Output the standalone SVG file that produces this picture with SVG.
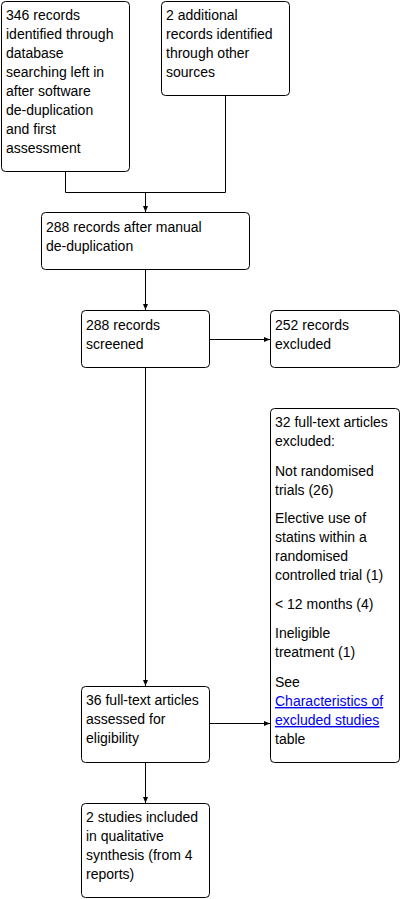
<svg xmlns="http://www.w3.org/2000/svg" width="402" height="899" viewBox="0 0 402 899">
<style>
rect.box{fill:#fff;stroke:#000;stroke-width:1}
text{font-family:"Liberation Sans",Arial,sans-serif;font-size:14px;fill:#000}
.link{fill:#0000ee;text-decoration:underline}
.conn{fill:none;stroke:#000;stroke-width:1}
</style>
<defs>
<marker id="arr" markerWidth="6" markerHeight="6" refX="6" refY="3" orient="auto" markerUnits="userSpaceOnUse">
<path d="M0,0.5 L6,3 L0,5.5 Z" fill="#000"/>
</marker>
</defs>
<g id="connectors">
<path class="conn" d="M65.5,171 V192.5 H225.5 V95"/>
<path class="conn" d="M145.5,192.5 V212" marker-end="url(#arr)"/>
<path class="conn" d="M145.5,269 V310" marker-end="url(#arr)"/>
<path class="conn" d="M209,339.5 H270" marker-end="url(#arr)"/>
<path class="conn" d="M145.5,367 V686" marker-end="url(#arr)"/>
<path class="conn" d="M209,723.5 H270" marker-end="url(#arr)"/>
<path class="conn" d="M145.5,762 V803" marker-end="url(#arr)"/>
</g>
<g id="n1">
<rect class="box" x="1.5" y="1.5" width="128" height="170" rx="4"/>
<text x="6" y="20">346 records</text>
<text x="6" y="39">identified through</text>
<text x="6" y="58">database</text>
<text x="6" y="77">searching left in</text>
<text x="6" y="96">after software</text>
<text x="6" y="115">de-duplication</text>
<text x="6" y="134">and first</text>
<text x="6" y="153">assessment</text>
</g>
<g id="n2">
<rect class="box" x="161.5" y="1.5" width="128" height="94" rx="4"/>
<text x="166" y="20">2 additional</text>
<text x="166" y="39">records identified</text>
<text x="166" y="58">through other</text>
<text x="166" y="77">sources</text>
</g>
<g id="n3">
<rect class="box" x="41.5" y="212.5" width="208" height="57" rx="4"/>
<text x="46" y="232">288 records after manual</text>
<text x="46" y="251">de-duplication</text>
</g>
<g id="n4">
<rect class="box" x="81.5" y="310.5" width="128" height="57" rx="4"/>
<text x="86" y="330">288 records</text>
<text x="86" y="349">screened</text>
</g>
<g id="n5">
<rect class="box" x="270.5" y="310.5" width="129" height="57" rx="4"/>
<text x="275" y="330">252 records</text>
<text x="275" y="349">excluded</text>
</g>
<g id="n6">
<rect class="box" x="270.5" y="408.5" width="129" height="354" rx="4"/>
<text x="275" y="427">32 full-text articles</text>
<text x="275" y="446">excluded:</text>
<text x="275" y="476">Not randomised</text>
<text x="275" y="495">trials (26)</text>
<text x="275" y="523">Elective use of</text>
<text x="275" y="542">statins within a</text>
<text x="275" y="561">randomised</text>
<text x="275" y="580">controlled trial (1)</text>
<text x="275" y="609">&lt; 12 months (4)</text>
<text x="275" y="638">Ineligible</text>
<text x="275" y="657">treatment (1)</text>
<text x="275" y="687">See</text>
<text x="275" y="706" class="link">Characteristics of</text>
<text x="275" y="725" class="link">excluded studies</text>
<text x="275" y="744">table</text>
</g>
<g id="n7">
<rect class="box" x="81.5" y="686.5" width="128" height="76" rx="4"/>
<text x="86" y="705">36 full-text articles</text>
<text x="86" y="724">assessed for</text>
<text x="86" y="743">eligibility</text>
</g>
<g id="n8">
<rect class="box" x="81.5" y="803.5" width="128" height="94" rx="4"/>
<text x="86" y="822">2 studies included</text>
<text x="86" y="841">in qualitative</text>
<text x="86" y="860">synthesis (from 4</text>
<text x="86" y="879">reports)</text>
</g>
</svg>
